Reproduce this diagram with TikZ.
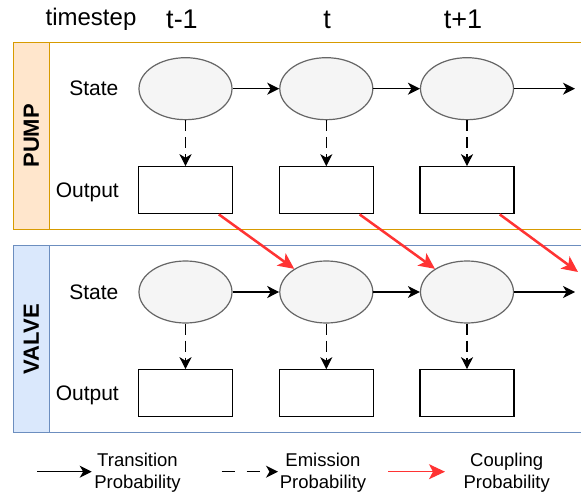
\documentclass[tikz,border=0pt]{standalone}
\usepackage{fontspec}
\setmainfont{Liberation Sans}
\usetikzlibrary{arrows.meta,shapes.geometric}
\definecolor{pumpline}{HTML}{D79B00}
\definecolor{pumpfill}{HTML}{FFE6CC}
\definecolor{valveline}{HTML}{6C8EBF}
\definecolor{valvefill}{HTML}{DAE8FC}
\definecolor{statefill}{HTML}{F5F5F5}
\definecolor{statedraw}{HTML}{666666}
\definecolor{coupred}{HTML}{FF3333}
\begin{document}
\begin{tikzpicture}[x=1pt,y=-1pt,
  hstate/.style={ellipse, draw=statedraw, fill=statefill, line width=1.2pt, minimum width=93pt, minimum height=62pt, inner sep=0pt},
  hout/.style={rectangle, draw=black, fill=white, line width=1.2pt, minimum width=94pt, minimum height=47pt, inner sep=0pt},
  trans/.style={-{Stealth[length=12pt,width=12pt,inset=3.5pt]}, line width=1.3pt},
  emis/.style={trans, dash pattern=on 11pt off 6pt},
  coup/.style={-{Stealth[length=16pt,width=15pt,inset=4pt]}, draw=coupred, line width=2.5pt},
  rowlabel/.style={anchor=base east, inner sep=0pt, font=\fontsize{21}{25}\selectfont},
  lanelabel/.style={rotate=90, inner sep=0pt, font=\bfseries\fontsize{22}{26}\selectfont},
  steplabel/.style={anchor=base, inner sep=0pt, font=\fontsize{27}{32}\selectfont},
  legtext/.style={align=center, inner sep=0pt, font=\fontsize{18.5}{21.6}\selectfont}]
\clip (0,0) rectangle (581,497);
\fill[white] (0,0) rectangle (581,497);

\node[anchor=base, inner sep=0pt, font=\fontsize{24}{28}\selectfont] (tstep) at (91,26) {timestep};
\node[steplabel] (tprev) at (182,28.5) {t-1};
\node[steplabel] (tnow) at (327,28.5) {t};
\node[steplabel] (tnext) at (463,28.5) {t+1};

\draw[pumpline, line width=1.5pt] (13.3,42.3) rectangle (600,229.3);
\filldraw[fill=pumpfill, draw=pumpline, line width=1.5pt] (13.3,42.3) rectangle (49.3,229.3);
\node[lanelabel] (pump) at (31.3,135.8) {PUMP};
\draw[valveline, line width=1.5pt] (13.3,245.7) rectangle (600,432.7);
\filldraw[fill=valvefill, draw=valveline, line width=1.5pt] (13.3,245.7) rectangle (49.3,432.7);
\node[lanelabel] (valve) at (31.3,339.2) {VALVE};

\node[rowlabel] (pstate) at (118.5,96) {State};
\node[rowlabel] (pout) at (119,197.3) {Output};
\node[rowlabel] (vstate) at (118.5,299.3) {State};
\node[rowlabel] (vout) at (119,400.6) {Output};

\node[hstate] (ps1) at (185.5,88.7) {};
\node[hstate] (ps2) at (326.3,88.7) {};
\node[hstate] (ps3) at (467,88.7) {};
\node[hout] (po1) at (185.5,190.3) {};
\node[hout] (po2) at (326.3,190.3) {};
\node[hout] (po3) at (467,190.3) {};
\node[hstate] (vs1) at (185.5,292) {};
\node[hstate] (vs2) at (326.3,292) {};
\node[hstate] (vs3) at (467,292) {};
\node[hout] (vo1) at (185.5,393.3) {};
\node[hout] (vo2) at (326.3,393.3) {};
\node[hout] (vo3) at (467,393.3) {};

\coordinate (pend) at (575,88.7);
\coordinate (vend) at (575,292);
\coordinate (cend) at (578,272);

\draw[trans] (ps1) -- (ps2);
\draw[trans] (ps2) -- (ps3);
\draw[trans] (ps3) -- (pend);
\draw[trans] (vs1) -- (vs2);
\draw[trans] (vs2) -- (vs3);
\draw[trans] (vs3) -- (vend);

\draw[emis] (ps1) -- (po1);
\draw[emis] (ps2) -- (po2);
\draw[emis] (ps3) -- (po3);
\draw[emis] (vs1) -- (vo1);
\draw[emis] (vs2) -- (vo2);
\draw[emis] (vs3) -- (vo3);

\draw[coup] (po1) -- (vs2);
\draw[coup] (po2) -- (vs3);
\draw[coup] (po3) -- (cend);

\coordinate (ta) at (37,471.7);
\coordinate (tb) at (91.7,471.7);
\coordinate (ea) at (221.7,471.7);
\coordinate (eb) at (278,471.7);
\coordinate (ca) at (388.3,471.7);
\coordinate (cb) at (445,471.7);
\draw[trans] (ta) -- (tb);
\draw[emis, dash pattern=on 13pt off 12pt] (ea) -- (eb);
\draw[coup, line width=1.3pt] (ca) -- (cb);
\node[legtext] (ltrans) at (137.5,472.5) {Transition\\Probability};
\node[legtext] (lemis) at (323,472.5) {Emission\\Probability};
\node[legtext] (lcoup) at (506.7,472.5) {Coupling\\Probability};
\end{tikzpicture}
\end{document}
